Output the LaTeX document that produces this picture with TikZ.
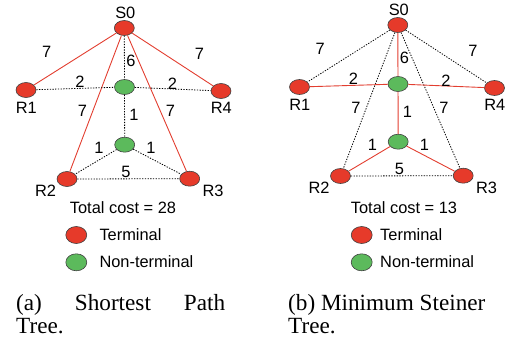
\documentclass[tikz,border=0pt]{standalone}
\usepackage{fontspec}
\setmainfont{Liberation Serif}
\setsansfont{Liberation Sans}
\usetikzlibrary{shapes.geometric}
\definecolor{termred}{RGB}{230,58,42}
\definecolor{ntgreen}{RGB}{92,186,92}
\definecolor{treered}{RGB}{226,62,48}

\begin{document}
\begin{tikzpicture}[x=1pt, y=-1pt, font=\sffamily\fontsize{16.4}{18}\selectfont, line join=round,
  term/.style={ellipse, draw=black!75, line width=.6pt, fill=termred, minimum width=20pt, minimum height=15pt, inner sep=0pt},
  nonterm/.style={term, fill=ntgreen},
  tree/.style={draw=treered, line width=.9pt},
  other/.style={draw=black, line width=.8pt, dash pattern=on 1.3pt off 1.4pt},
  lbl/.style={inner sep=0pt},
  subcap/.style={inner sep=0pt, anchor=base west, font=\rmfamily\fontsize{23.2}{23}\selectfont}]
  \useasboundingbox (0,0) rectangle (505,337);
  % same graph twice: shortest path tree (a), Steiner tree (b)
  \foreach \p/\dx/\dy/\sa/\sb/\cost/\cx/\ex/\tx in {a/0/0/tree/other/28/123/76.3/99.3, b/273.5/-3/other/tree/13/404/361.7/380}{
    \begin{scope}[shift={(\dx,\dy)}]
      \node[term] (\p S0) at (124.3,28) {};
      \node[term] (\p R1) at (26,90) {};
      \node[term] (\p R4) at (221,91) {};
      \node[term] (\p R2) at (67,179) {};
      \node[term] (\p R3) at (189.7,178.7) {};
      \node[nonterm] (\p G1) at (124.5,87) {};
      \node[nonterm] (\p G2) at (124.7,144.7) {};
      \foreach \u/\v in {S0/R1,S0/R4,S0/R2,S0/R3} \draw[\sa] (\p\u) -- (\p\v);
      \foreach \u/\v in {S0/G1,R1/G1,G1/R4,G1/G2,G2/R2,G2/R3} \draw[\sb] (\p\u) -- (\p\v);
      \draw[other] (\p R2) -- (\p R3);
      % node names
      \foreach \n/\x/\y in {S0/125.3/12.8, R1/26.3/108, R4/221.3/108, R2/45.5/191, R3/213/191}
        \node[lbl] (\p l\n) at (\x,\y) {\n};
      % edge weights
      \foreach \n/\x/\y/\w in {1/46.7/52/7, 2/199.5/54/7, 3/131/60.5/6, 4/80/82/2, 5/172.5/84/2,
          6/82.5/110.5/7, 7/170.5/110.5/7, 8/134/115/1, 9/99/148/1, 10/151/148/1, 11/126/171.7/5}
        \node[lbl] (\p w\n) at (\x,\y) {\w};
    \end{scope}
    % cost and legend
    \node[lbl, anchor=base] (\p cost) at (\cx,213.3) {Total cost = \cost};
    \node[term, minimum width=21pt, minimum height=17pt] (\p keyT) at (\ex,235) {};
    \node[nonterm, minimum width=21pt, minimum height=17pt] (\p keyN) at (\ex,262.3) {};
    \node[lbl, anchor=base west] (\p txtT) at (\tx,240) {Terminal};
    \node[lbl, anchor=base west] (\p txtN) at (\tx,267.7) {Non-terminal};
  }
  % sub-captions
  \node[subcap] (capa1) at (16,310) {\makebox[209pt][s]{(a) Shortest Path}};
  \node[subcap] (capa2) at (16,333) {Tree.};
  \node[subcap] (capb1) at (288,310) {(b) Minimum Steiner};
  \node[subcap] (capb2) at (288,333) {Tree.};
\end{tikzpicture}
\end{document}
